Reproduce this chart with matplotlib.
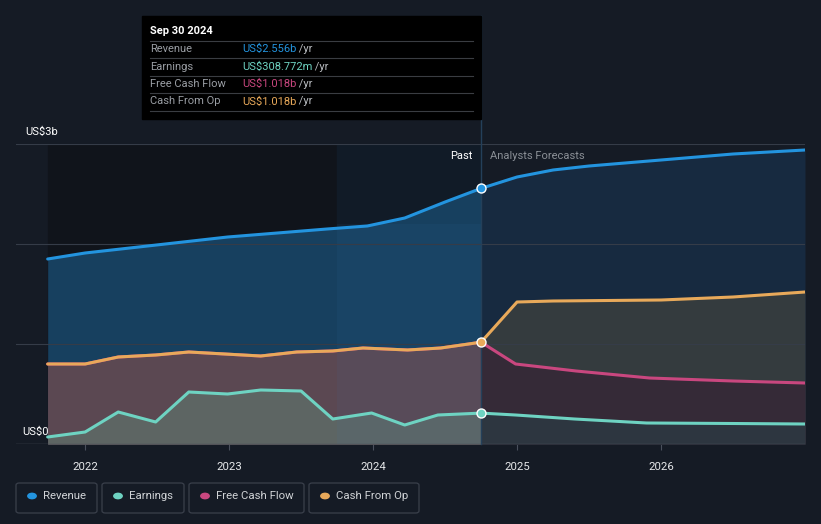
import numpy as np
import matplotlib
matplotlib.use("Agg")
import matplotlib.pyplot as plt
from matplotlib.patches import FancyBboxPatch, Rectangle, Circle
from matplotlib.text import Annotation

plt.rcParams['font.family'] = ['Roboto', 'DejaVu Sans']

# data (decimal years, values in US$ billions)
rev_x = [2021.74, 2022.0, 2022.31, 2022.99, 2023.68, 2023.96, 2024.22, 2024.5, 2024.75,
         2025.0, 2025.25, 2025.5, 2026.0, 2026.5, 2027.0]
rev_y = [1.85, 1.91, 1.96, 2.07, 2.15, 2.18, 2.26, 2.42, 2.556,
         2.67, 2.74, 2.78, 2.84, 2.90, 2.94]

cfo_x = [2021.74, 2022.0, 2022.23, 2022.49, 2022.72, 2022.97, 2023.22, 2023.47, 2023.72,
         2023.93, 2024.24, 2024.47, 2024.75, 2025.0, 2025.25, 2026.0, 2026.5, 2027.0]
cfo_y = [0.80, 0.80, 0.87, 0.89, 0.92, 0.90, 0.88, 0.92, 0.93,
         0.96, 0.94, 0.96, 1.018, 1.42, 1.43, 1.44, 1.47, 1.52]

fcf_x = [2021.74, 2022.0, 2022.23, 2022.49, 2022.72, 2022.97, 2023.22, 2023.47, 2023.72,
         2023.93, 2024.24, 2024.47, 2024.75, 2024.99, 2025.41, 2025.92, 2026.5, 2027.0]
fcf_y = [0.80, 0.80, 0.87, 0.89, 0.92, 0.90, 0.88, 0.92, 0.93,
         0.96, 0.94, 0.96, 1.018, 0.80, 0.73, 0.66, 0.63, 0.61]

ern_x = [2021.74, 2022.0, 2022.23, 2022.49, 2022.72, 2022.99, 2023.22, 2023.5, 2023.72,
         2023.99, 2024.22, 2024.45, 2024.75, 2024.99, 2025.4, 2025.9, 2026.5, 2027.0]
ern_y = [0.07, 0.12, 0.32, 0.22, 0.52, 0.50, 0.54, 0.53, 0.25,
         0.31, 0.19, 0.29, 0.309, 0.29, 0.25, 0.21, 0.205, 0.20]

years = [2022, 2023, 2024, 2025, 2026]
now = 2024.75

c_rev, c_ern, c_fcf, c_cfo = '#2394df', '#6ed3c2', '#c9477f', '#e8a95a'
bg = '#151b25'

W, H = 821, 524
fig = plt.figure(figsize=(W / 100, H / 100), dpi=100, facecolor=bg)
ax = fig.add_axes([16 / W, (H - 444) / H, (805 - 16) / W, 300 / H])
ax.set_facecolor(bg)
ax.set_xlim(2021.52, 2027.0)
ax.set_ylim(0, 3)


def split(xs, ys):
    xs, ys = np.array(xs), np.array(ys)
    p = xs <= now
    f = xs >= now
    return (xs[p], ys[p]), (xs[f], ys[f])


# past background bands
ax.axvspan(2021.74, 2023.75, color='#10141b', zorder=0)
ax.axvspan(2023.75, now, color='#111b27', zorder=0)

layers = [(rev_x, rev_y, '#17405f', '#172a40'),
          (cfo_x, cfo_y, '#5b4852', '#343b3e'),
          (fcf_x, fcf_y, '#5b4852', '#352a37'),
          (ern_x, ern_y, '#5d6563', '#2d3640')]
for i, (xs, ys, cp, cf) in enumerate(layers):
    (px_, py_), (fx_, fy_) = split(xs, ys)
    ax.fill_between(px_, 0, py_, color=cp, lw=0, zorder=1 + i)
    ax.fill_between(fx_, 0, fy_, color=cf, lw=0, zorder=1 + i)

# highlighted last year
ax.axvspan(2023.75, now, ymax=2.2 / 3, color='#3d78b0', alpha=0.08, lw=0, zorder=5)

for y in [1, 2, 3]:
    ax.axhline(y, color='#353c48', lw=0.8, zorder=6)
ax.axhline(0, color='#4a505c', lw=1.0, zorder=6)

ax.plot(ern_x, ern_y, color=c_ern, lw=2.2, zorder=8, solid_capstyle='round')
ax.plot(fcf_x, fcf_y, color=c_fcf, lw=2.2, zorder=8, solid_capstyle='round')
ax.plot(cfo_x, cfo_y, color=c_cfo, lw=2.2, zorder=9, solid_capstyle='round')
ax.plot(rev_x, rev_y, color=c_rev, lw=2.2, zorder=9, solid_capstyle='round')

ax.plot([now, now], [0, 4.28], color='#24405a', lw=1, zorder=7, clip_on=False)
for yv, c in [(2.556, c_rev), (1.018, c_cfo), (0.309, c_ern)]:
    ax.scatter([now], [yv], s=42, color=c, edgecolor='white', lw=1.0, zorder=12)

for s in ax.spines.values():
    s.set_visible(False)
ax.set_yticks([])
ax.set_xticks(years)
ax.set_xticklabels([str(y) for y in years], color='#e6e8ea', fontsize=8.2)
ax.tick_params(axis='x', length=4, color='#4a505c', pad=9)

ax.text(now - 0.06, 2.88, 'Past', color='white', fontsize=8, ha='right', va='center', zorder=10)
ax.text(now + 0.06, 2.88, 'Analysts Forecasts', color='#8a8f96', fontsize=8, ha='left', va='center', zorder=10)


def fx(x):
    return x / W


def fy(y):
    return 1 - y / H


fig.text(fx(25), fy(132), 'US$3b', color='white', fontsize=8, va='center')
fig.text(fx(22), fy(432), 'US$0', color='white', fontsize=8, va='center', zorder=20)

# tooltip
fig.patches.append(Rectangle((fx(142), fy(119)), (481 - 142) / W, (119 - 16) / H,
                             transform=fig.transFigure, color='black', zorder=20))
fig.text(fx(150), fy(31), 'Sep 30 2024', color='white', fontsize=8, weight='bold', va='center', zorder=21)
rows = [('Revenue', 'US$2.556b', c_rev), ('Earnings', 'US$308.772m', c_ern),
        ('Free Cash Flow', 'US$1.018b', c_fcf), ('Cash From Op', 'US$1.018b', c_cfo)]
for i, (lab, val, c) in enumerate(rows):
    y = 49 + i * 17.5
    fig.text(fx(150), fy(y), lab, color='#9a9ea4', fontsize=8, va='center', zorder=21)
    t = fig.text(fx(242), fy(y), val, color=c, fontsize=8, va='center', zorder=21)
    fig.add_artist(Annotation(' /yr', xy=(1, 0.5), xycoords=t, va='center', ha='left',
                              color='#b9bcc0', fontsize=8, zorder=22))
for y in [41, 58, 76, 93, 111]:
    fig.lines.append(plt.Line2D([fx(150), fx(473)], [fy(y), fy(y)], transform=fig.transFigure,
                                color='#3a3d42', lw=0.8, zorder=21))

# legend
legend = [('Revenue', c_rev, 16, 97), ('Earnings', c_ern, 102, 184),
          ('Free Cash Flow', c_fcf, 189, 304), ('Cash From Op', c_cfo, 309, 419)]
for lab, c, x0, x1 in legend:
    fig.patches.append(FancyBboxPatch((fx(x0), fy(513)), (x1 - x0) / W, 30 / H,
                                      boxstyle='round,pad=0,rounding_size=0.004',
                                      transform=fig.transFigure, facecolor=bg,
                                      edgecolor='#3a404b', lw=0.9))
    fig.patches.append(Circle((fx(x0 + 16), fy(496)), 4.2 / W, transform=fig.transFigure,
                              color=c))
    fig.text(fx(x0 + 27), fy(496), lab, color='#d0d3d6', fontsize=8.2, va='center')

fig.savefig('out.png', dpi=100, facecolor=bg)
